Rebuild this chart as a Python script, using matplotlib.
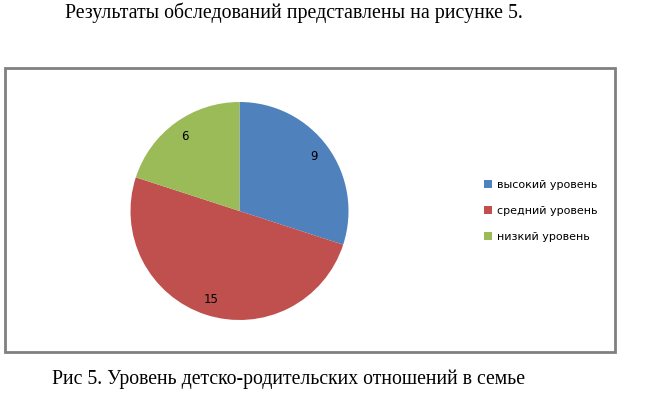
import matplotlib.pyplot as plt
from matplotlib.patches import Rectangle

# data
labels = ['высокий уровень', 'средний уровень', 'низкий уровень']
values = [9, 15, 6]
colors = ['#4F81BD', '#C0504D', '#9BBB59']

W, H = 662, 399
fig = plt.figure(figsize=(W / 100, H / 100), dpi=100)
fig.patch.set_facecolor('white')

# text above and below the chart (document text)
fig.text(65 / W, 1 - 13 / H, 'Результаты обследований представлены на рисунке 5.',
         family='Liberation Serif', fontsize=14.3, ha='left', va='center')
fig.text(52 / W, 1 - 379 / H, 'Рис 5. Уровень детско-родительских отношений в семье',
         family='Liberation Serif', fontsize=14.2, ha='left', va='center')

# chart frame
fig.patches.append(Rectangle((5 / W, 1 - 352 / H), 610 / W, 284 / H,
                             transform=fig.transFigure, fill=False,
                             edgecolor='#808080', linewidth=2))

# pie
ax = fig.add_axes([130 / W, 1 - 320 / H, 219 / W, 218 / H])
wedges, _, autotexts = ax.pie(values, colors=colors, startangle=90, counterclock=False,
                              autopct=lambda p: '%d' % round(p * sum(values) / 100),
                              pctdistance=0.85, textprops={'fontsize': 8.5})
ax.set_xlim(-1, 1)
ax.set_ylim(-1, 1)
ax.axis('off')

fig.legend(wedges, labels, loc='center left', bbox_to_anchor=(474 / W, 1 - 211 / H),
           frameon=False, fontsize=8, handlelength=0.7, handleheight=0.7,
           handletextpad=0.5, labelspacing=1.45)

fig.savefig('out.png', dpi=100)
